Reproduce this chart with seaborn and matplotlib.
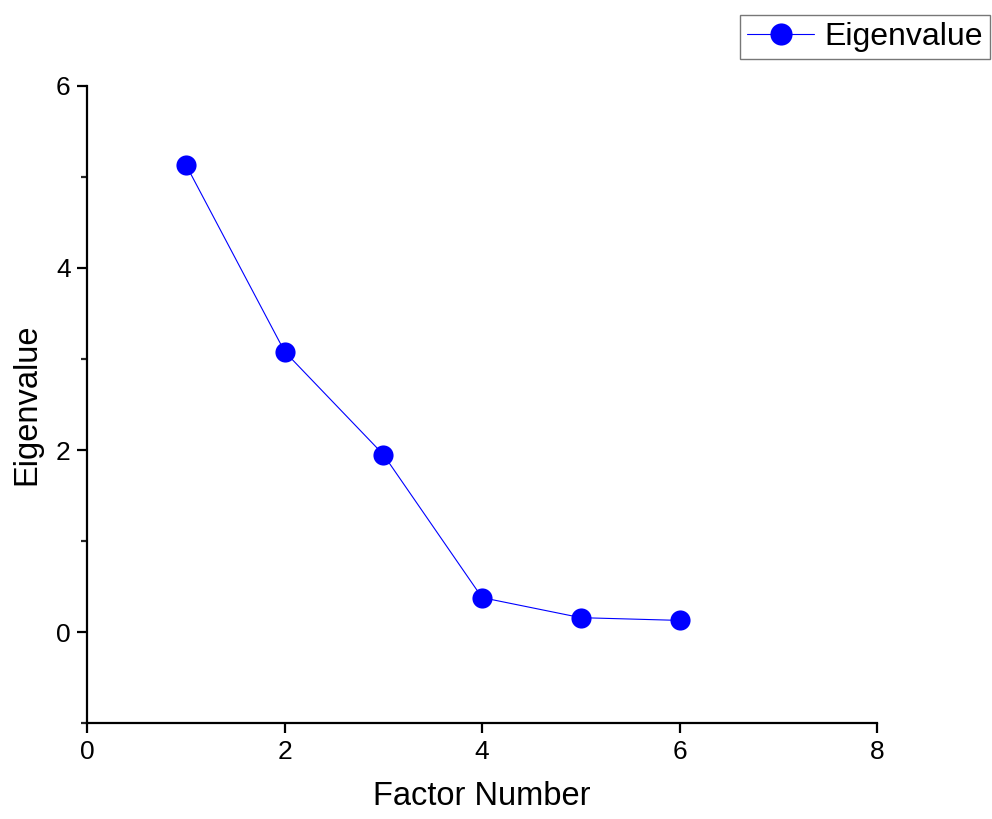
import matplotlib
matplotlib.use("Agg")
import matplotlib.pyplot as plt
import seaborn as sns
import pandas as pd
from matplotlib.ticker import MultipleLocator

factor_number = [1, 2, 3, 4, 5, 6]
eigenvalue = [5.13, 3.08, 1.95, 0.38, 0.16, 0.13]

sns.set_style("ticks")
plt.rcParams['font.family'] = ['Liberation Sans', 'DejaVu Sans']
plt.rcParams['text.color'] = 'black'
plt.rcParams['axes.labelcolor'] = 'black'

df = pd.DataFrame({"Factor Number": factor_number, "Eigenvalue": eigenvalue})

fig = plt.figure(figsize=(9.92, 8.19), dpi=100)
ax = fig.add_axes([0.088, 0.1168, 0.796, 0.7786])

sns.lineplot(data=df, x="Factor Number", y="Eigenvalue", ax=ax,
             color="#0000ff", linewidth=0.8, marker="o", markersize=14.5,
             markeredgewidth=0, markerfacecolor="#0000ff", label="Eigenvalue")

ax.set_xlim(0, 8)
ax.set_ylim(-1, 6)
ax.xaxis.set_major_locator(MultipleLocator(2))
ax.yaxis.set_major_locator(MultipleLocator(2))
ax.yaxis.set_minor_locator(MultipleLocator(1))
ax.set_yticks([0, 2, 4, 6])

for s in ["top", "right"]:
    ax.spines[s].set_visible(False)
for s in ["left", "bottom"]:
    ax.spines[s].set_linewidth(1.6)
    ax.spines[s].set_color("black")

ax.tick_params(axis="both", which="major", direction="out", length=7, width=1.6,
               labelsize=19, colors="black", pad=5)
ax.tick_params(axis="y", which="minor", direction="out", length=4.5, width=1.6)

ax.set_xlabel("Factor Number", fontsize=23.5, labelpad=12)
ax.set_ylabel("Eigenvalue", fontsize=23.5, labelpad=10)

leg = ax.legend(loc="upper right", bbox_to_anchor=(1.1427, 1.111),
                bbox_transform=ax.transAxes, fontsize=23, frameon=True, fancybox=False,
                edgecolor="#555555", handlelength=2.1, borderpad=0.22,
                handletextpad=0.3, borderaxespad=0, markerscale=1.1)
leg.get_frame().set_linewidth(1.0)
for t in leg.get_texts():
    t.set_color("black")

fig.savefig("out.png", dpi=100)
